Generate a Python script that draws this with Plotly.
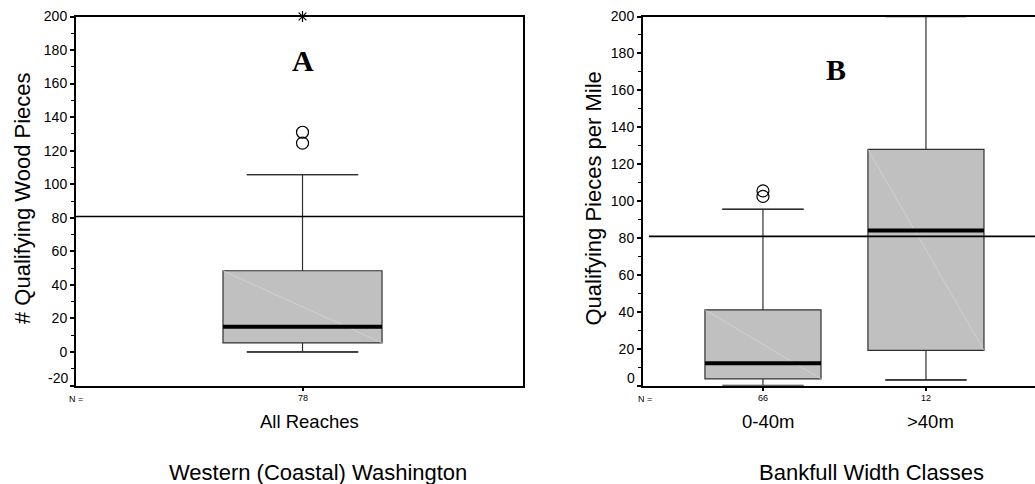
import plotly.graph_objects as go

# ---------------- data ----------------
# Panel A: all reaches
a_categories = ["All Reaches"]
a_counts = ["78"]
a_lower = [0.0]
a_q1 = [5.4]
a_median = [15.0]
a_q3 = [48.4]
a_upper = [105.7]
a_outliers = [124.5, 131.0]
a_extremes = [200.0]

# Panel B: bankfull width classes
b_categories = ["0-40m", ">40m"]
b_counts = ["66", "12"]
b_lower = [0.0, 3.0]
b_q1 = [3.6, 19.0]
b_median = [12.0, 84.0]
b_q3 = [41.0, 128.0]
b_upper = [95.5, 200.0]
b_outliers_cat = [0, 0]
b_outliers = [102.5, 105.5]

reference_level = 80.8

a_yticks = [-20, 0, 20, 40, 60, 80, 100, 120, 140, 160, 180, 200]
b_yticks = [0, 20, 40, 60, 80, 100, 120, 140, 160, 180, 200]

# ---------------- style ----------------
FONT = "Liberation Sans, Arial, sans-serif"
SERIF = "Liberation Serif, Times New Roman, serif"
BOXW = 0.712
WHISK = 0.7
FILL = "#c0c0c0"
EDGE = "#303030"
TICKSIZE = 14

fig = go.Figure()


def add_panel(xa, ya, cats, lower, q1, med, q3, upper):
    xs = list(range(len(cats)))
    for i in xs:
        fig.add_trace(go.Box(
            x=[i], q1=[q1[i]], median=[med[i]], q3=[q3[i]],
            lowerfence=[lower[i]], upperfence=[upper[i]],
            width=BOXW, whiskerwidth=WHISK, boxpoints=False,
            fillcolor=FILL, line=dict(color=EDGE, width=1.2),
            xaxis=xa, yaxis=ya, showlegend=False, hoverinfo="skip"))
        # faint diagonal artifact inside the box
        fig.add_trace(go.Scatter(
            x=[i - BOXW / 2, i + BOXW / 2], y=[q3[i], q1[i]], mode="lines",
            line=dict(color="#d6d6d6", width=0.7),
            xaxis=xa, yaxis=ya, showlegend=False, hoverinfo="skip"))
        # thick median
        fig.add_trace(go.Scatter(
            x=[i - BOXW / 2, i + BOXW / 2], y=[med[i], med[i]], mode="lines",
            line=dict(color="black", width=4),
            xaxis=xa, yaxis=ya, showlegend=False, hoverinfo="skip"))
        # whisker caps (unclipped so caps on the frame stay visible)
        for fence in (lower[i], upper[i]):
            fig.add_trace(go.Scatter(
                x=[i - BOXW * WHISK / 2, i + BOXW * WHISK / 2], y=[fence, fence],
                mode="lines", line=dict(color=EDGE, width=1.4), cliponaxis=False,
                xaxis=xa, yaxis=ya, showlegend=False, hoverinfo="skip"))


add_panel("x", "y", a_categories, a_lower, a_q1, a_median, a_q3, a_upper)
add_panel("x2", "y2", b_categories, b_lower, b_q1, b_median, b_q3, b_upper)

# outliers
fig.add_trace(go.Scatter(
    x=[0] * len(a_outliers), y=a_outliers, mode="markers",
    marker=dict(symbol="circle-open", size=12, color="black", line=dict(width=1.2)),
    xaxis="x", yaxis="y", showlegend=False, cliponaxis=False))
fig.add_trace(go.Scatter(
    x=[0] * len(a_extremes), y=a_extremes, mode="markers",
    marker=dict(symbol="asterisk-open", size=9, color="black", line=dict(width=1.2, color="black")),
    xaxis="x", yaxis="y", showlegend=False, cliponaxis=False))
fig.add_trace(go.Scatter(
    x=b_outliers_cat, y=b_outliers, mode="markers",
    marker=dict(symbol="circle-open", size=12, color="black", line=dict(width=1.2)),
    xaxis="x2", yaxis="y2", showlegend=False, cliponaxis=False))

# reference lines
fig.add_shape(type="line", xref="x domain", yref="y", x0=0, x1=1,
              y0=reference_level, y1=reference_level, line=dict(color="black", width=1.6))
fig.add_shape(type="line", xref="x2 domain", yref="y2", x0=0.015, x1=1,
              y0=reference_level, y1=reference_level, line=dict(color="black", width=1.6))

W, H = 1035, 484
dom_y = [1 - 385.5 / H, 1 - 16.5 / H]

common_y = dict(
    showline=True, linecolor="black", linewidth=2, ticks="outside", ticklen=4,
    tickwidth=2, tickcolor="black", showgrid=False, zeroline=False, automargin=False,
    tickfont=dict(family=FONT, size=TICKSIZE, color="black"),
    minor=dict(dtick=10, ticks="outside", ticklen=3, tickwidth=1, tickcolor="black"),
    domain=dom_y)

common_x = dict(showline=True, mirror=True, linecolor="black", linewidth=2,
                ticks="outside", ticklen=3, tickwidth=2, tickcolor="black",
                showgrid=False, zeroline=False, automargin=False)

fig.update_layout(
    template="none",
    width=W, height=H, margin=dict(l=0, r=0, t=0, b=0, pad=0), autosize=False,
    paper_bgcolor="white", plot_bgcolor="white", showlegend=False,
    xaxis=dict(domain=[76 / W, 523 / W], range=[-1.014, 0.987],
               tickvals=[0], ticktext=[""], **common_x),
    yaxis=dict(range=[-20, 200], tickvals=a_yticks,
               ticktext=["" if v == a_yticks[0] else str(v) for v in a_yticks],
               mirror=True, **common_y),
    xaxis2=dict(domain=[643 / W, 1.0], range=[-0.736, 1.669], anchor="y2",
                tickvals=[0, 1], ticktext=["", ""], **common_x),
    yaxis2=dict(range=[0, 200], tickvals=b_yticks, anchor="x2",
                ticktext=["" if v == b_yticks[0] else str(v) for v in b_yticks],
                mirror=False, **common_y),
)

ann = []
# raised bottom tick labels
ann.append(dict(xref="x domain", yref="y", x=0, y=a_yticks[0], text=str(a_yticks[0]),
                xanchor="right", yanchor="middle", xshift=-6, yshift=8, showarrow=False,
                font=dict(family=FONT, size=TICKSIZE, color="black")))
ann.append(dict(xref="x2 domain", yref="y2", x=0, y=b_yticks[0], text=str(b_yticks[0]),
                xanchor="right", yanchor="middle", xshift=-6, yshift=8, showarrow=False,
                font=dict(family=FONT, size=TICKSIZE, color="black")))
# panel letters
ann.append(dict(xref="x", yref="paper", x=0, y=1 - 60.5 / H, text="<b>A</b>",
                showarrow=False, xanchor="center", yanchor="middle",
                font=dict(family=SERIF, size=30, color="black")))
ann.append(dict(xref="x2", yref="paper", x=0.445, y=1 - 69 / H, text="<b>B</b>",
                showarrow=False, xanchor="center", yanchor="middle",
                font=dict(family=SERIF, size=30, color="black")))
# N = labels
for px in (75.8, 645.3):
    ann.append(dict(xref="paper", yref="paper", x=px / W, y=1 - 398.5 / H, text="N =",
                    showarrow=False, xanchor="center", yanchor="middle",
                    font=dict(family=FONT, size=9, color="black")))
# counts and category labels
for xa, cats, counts in (("x", a_categories, a_counts), ("x2", b_categories, b_counts)):
    for i, (c, n) in enumerate(zip(cats, counts)):
        ann.append(dict(xref=xa, yref="paper", x=i, y=1 - 398 / H, text=n,
                        showarrow=False, xanchor="center", yanchor="middle",
                        font=dict(family=FONT, size=9, color="black")))
        ann.append(dict(xref=xa, yref="paper", x=i + 0.03, y=1 - 421.5 / H, text=c,
                        showarrow=False, xanchor="center", yanchor="middle",
                        font=dict(family=FONT, size=18.5, color="black")))
# axis titles
ann.append(dict(xref="paper", yref="paper", x=22.5 / W, y=1 - 198.5 / H,
                text="# Qualifying Wood Pieces", textangle=-90, showarrow=False,
                xanchor="center", yanchor="middle", font=dict(family=FONT, size=22, color="black")))
ann.append(dict(xref="paper", yref="paper", x=593 / W, y=1 - 198.5 / H,
                text="Qualifying Pieces per Mile", textangle=-90, showarrow=False,
                xanchor="center", yanchor="middle", font=dict(family=FONT, size=22, color="black")))
ann.append(dict(xref="paper", yref="paper", x=318 / W, y=1 - 472 / H,
                text="Western (Coastal) Washington", showarrow=False,
                xanchor="center", yanchor="middle", font=dict(family=FONT, size=22, color="black")))
ann.append(dict(xref="paper", yref="paper", x=871 / W, y=1 - 472 / H,
                text="Bankfull Width Classes", showarrow=False,
                xanchor="center", yanchor="middle", font=dict(family=FONT, size=22, color="black")))

fig.update_layout(annotations=ann)

fig.write_html("out.html")
